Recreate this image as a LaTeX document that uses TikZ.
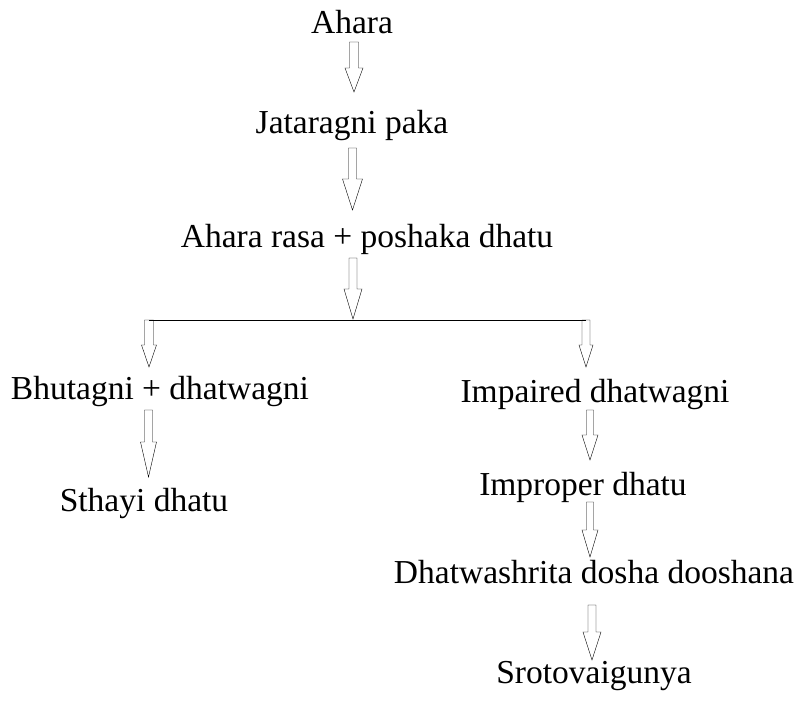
\documentclass[tikz,border=0pt]{standalone}
\usepackage{fontspec}
\setmainfont{Liberation Serif}
\usetikzlibrary{calc}
\tikzset{
  lbl/.style={anchor=base, inner sep=0pt, font=\fontsize{33.5}{40}\selectfont},
  hlen/.store in=\hlen, hlen=25pt,
  hwid/.store in=\hwid, hwid=9pt,
  swid/.store in=\swid, swid=4.5pt,
  blockarrow/.style={draw=black, line width=0.8pt, line join=miter,
    to path={let \p1=(\tikztostart), \p2=(\tikztotarget) in
      (\x1-\swid,\y1) -- (\x1-\swid,\y2+\hlen) -- (\x1-\hwid,\y2+\hlen) -- (\x1,\y2)
      -- (\x1+\hwid,\y2+\hlen) -- (\x1+\swid,\y2+\hlen) -- (\x1+\swid,\y1) -- cycle}},
  branch/.style={draw=black, line width=1pt}
}
\begin{document}
\begin{tikzpicture}[x=1pt,y=-1pt]
\useasboundingbox (0,0) rectangle (796,704);
% texts
\node[lbl] (ahara) at (352,33) {Ahara};
\node[lbl] (jat) at (352,133) {Jataragni paka};
\node[lbl] (rasa) at (367,247) {Ahara rasa + poshaka dhatu};
\node[lbl] (bhut) at (160,399) {Bhutagni + dhatwagni};
\node[lbl] (sthayi) at (144,511) {Sthayi dhatu};
\node[lbl] (impaired) at (595,402) {Impaired dhatwagni};
\node[lbl] (improper) at (583,495) {Improper dhatu};
\node[lbl] (dosha) at (594,583) {Dhatwashrita dosha dooshana};
\node[lbl] (sroto) at (594,683) {Srotovaigunya};
% arrow anchor coordinates
\coordinate (a1s) at (354,42);  \coordinate (a1e) at (354,92);
\coordinate (a2s) at (352.5,148); \coordinate (a2e) at (352.5,210);
\coordinate (a3s) at (353,258); \coordinate (a3e) at (353,319);
\coordinate (bl) at (149,320); \coordinate (br) at (586,320);
\coordinate (ble) at (149,367); \coordinate (bre) at (586,367);
\coordinate (l1s) at (148.5,410); \coordinate (l1e) at (148.5,477);
\coordinate (r1s) at (590,410); \coordinate (r1e) at (590,460);
\coordinate (r2s) at (590,502); \coordinate (r2e) at (590,557);
\coordinate (r3s) at (592,605); \coordinate (r3e) at (592,660);
% arrows
\draw (a1s) to[blockarrow, hlen=24pt, hwid=9pt, swid=4.5pt] (a1e);
\draw (a2s) to[blockarrow, hlen=31pt, hwid=10pt, swid=4pt] (a2e);
\draw (a3s) to[blockarrow, hlen=30pt, hwid=9pt, swid=4pt] (a3e);
\draw[branch] (bl) -- (br);
\draw (bl) to[blockarrow, hlen=22pt, hwid=7.5pt, swid=4.5pt] (ble);
\draw (br) to[blockarrow, hlen=22pt, hwid=7pt, swid=4pt] (bre);
\draw (l1s) to[blockarrow, hlen=35pt, hwid=8pt, swid=4pt] (l1e);
\draw (r1s) to[blockarrow, hlen=25pt, hwid=8pt, swid=3.5pt] (r1e);
\draw (r2s) to[blockarrow, hlen=27pt, hwid=8pt, swid=3.5pt] (r2e);
\draw (r3s) to[blockarrow, hlen=28pt, hwid=9pt, swid=4pt] (r3e);
\end{tikzpicture}
\end{document}
